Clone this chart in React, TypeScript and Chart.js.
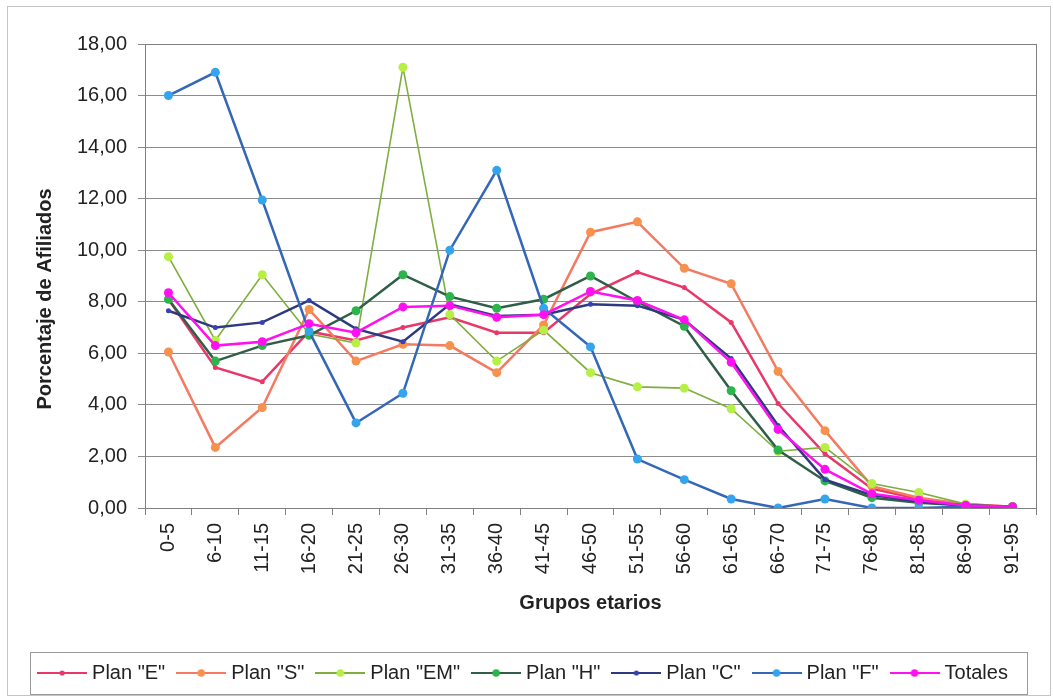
import { useEffect, useRef } from "react";
import { Chart, registerables } from "chart.js";

Chart.register(...registerables);

const categories = [
  "0-5", "6-10", "11-15", "16-20", "21-25", "26-30", "31-35", "36-40", "41-45", "46-50",
  "51-55", "56-60", "61-65", "66-70", "71-75", "76-80", "81-85", "86-90", "91-95",
];

const seriesNames = ['Plan "E"', 'Plan "S"', 'Plan "EM"', 'Plan "H"', 'Plan "C"', 'Plan "F"', "Totales"];

const planE = [8.1, 5.45, 4.9, 6.85, 6.5, 7.0, 7.4, 6.8, 6.8, 8.3, 9.15, 8.55, 7.2, 4.05, 2.1, 0.75, 0.35, 0.15, 0.05];
const planS = [6.05, 2.35, 3.9, 7.7, 5.7, 6.35, 6.3, 5.25, 7.1, 10.7, 11.1, 9.3, 8.7, 5.3, 3.0, 0.85, 0.4, 0.15, 0.05];
const planEM = [9.75, 6.5, 9.05, 6.75, 6.4, 17.1, 7.5, 5.7, 6.9, 5.25, 4.7, 4.65, 3.85, 2.2, 2.35, 0.95, 0.6, 0.15, 0.05];
const planH = [8.1, 5.7, 6.3, 6.7, 7.65, 9.05, 8.2, 7.75, 8.1, 9.0, 8.0, 7.05, 4.55, 2.25, 1.05, 0.4, 0.2, 0.1, 0.05];
const planC = [7.65, 7.0, 7.2, 8.05, 6.95, 6.45, 7.9, 7.45, 7.5, 7.9, 7.85, 7.3, 5.8, 3.2, 1.1, 0.5, 0.25, 0.1, 0.05];
const planF = [16.0, 16.9, 11.95, 6.85, 3.3, 4.45, 10.0, 13.1, 7.75, 6.25, 1.9, 1.1, 0.35, 0.0, 0.35, 0.0, 0.0, 0.05, 0.0];
const totales = [8.35, 6.3, 6.45, 7.15, 6.8, 7.8, 7.85, 7.4, 7.5, 8.4, 8.05, 7.3, 5.65, 3.05, 1.5, 0.55, 0.3, 0.1, 0.05];

const seriesValues = [planE, planS, planEM, planH, planC, planF, totales];

const yTitle = "Porcentaje de Afiliados";
const xTitle = "Grupos etarios";

const FONT = "'Liberation Sans', Arial, Helvetica, sans-serif";

const styles = [
  { line: "#E8386A", point: "#E8386A", r: 2.5, w: 2.5 },
  { line: "#F47A62", point: "#F7924E", r: 4.5, w: 2.5 },
  { line: "#7EAE3E", point: "#B6F044", r: 4.5, w: 1.6 },
  { line: "#2F5F46", point: "#2DB44C", r: 4.5, w: 2.5 },
  { line: "#2E3A80", point: "#3442B4", r: 2.5, w: 2.5 },
  { line: "#3467B8", point: "#34A4EC", r: 4.5, w: 2.5 },
  { line: "#FF10F0", point: "#FF10F0", r: 4.5, w: 2.5 },
];

function legendImage(s: { line: string; point: string; r: number; w: number }) {
  const c = document.createElement("canvas");
  c.width = 50;
  c.height = 12;
  const g = c.getContext("2d")!;
  g.strokeStyle = s.line;
  g.lineWidth = 2;
  g.beginPath();
  g.moveTo(0, 6);
  g.lineTo(50, 6);
  g.stroke();
  g.fillStyle = s.point;
  g.beginPath();
  g.arc(25, 6, s.r > 3 ? 3.8 : 2.6, 0, Math.PI * 2);
  g.fill();
  return c;
}

export default function App() {
  const ref = useRef<HTMLCanvasElement>(null);

  useEffect(() => {
    document.body.style.margin = "0";
    const canvas = ref.current!;
    const images = styles.map(legendImage);

    const framePlugin = {
      id: "framePlugin",
      beforeDraw(chart: any) {
        const ctx = chart.ctx;
        ctx.save();
        ctx.fillStyle = "#ffffff";
        ctx.fillRect(0, 0, chart.width, chart.height);
        ctx.strokeStyle = "#c4c4c4";
        ctx.lineWidth = 1;
        ctx.strokeRect(7.5, 6.5, chart.width - 10, chart.height - 9);
        ctx.restore();
      },
      beforeDatasetsDraw(chart: any) {
        const { ctx, chartArea } = chart;
        ctx.save();
        ctx.strokeStyle = "#808080";
        ctx.lineWidth = 1;
        ctx.strokeRect(
          Math.round(chartArea.left) + 0.5,
          Math.round(chartArea.top) + 0.5,
          Math.round(chartArea.right - chartArea.left),
          Math.round(chartArea.bottom - chartArea.top)
        );
        ctx.restore();
      },
      afterDraw(chart: any) {
        const ctx = chart.ctx;
        ctx.save();
        ctx.strokeStyle = "#9a9a9a";
        ctx.lineWidth = 1;
        ctx.strokeRect(30.5, 652.5, 997, 42);
        ctx.fillStyle = "#222222";
        ctx.font = `bold 20px ${FONT}`;
        ctx.textAlign = "center";
        ctx.textBaseline = "middle";
        ctx.translate(45, 299);
        ctx.rotate(-Math.PI / 2);
        ctx.fillText(yTitle, 0, 0);
        ctx.restore();
      },
    };

    const chart = new Chart(canvas, {
      type: "line",
      data: {
        labels: categories,
        datasets: seriesNames.map((name, i) => ({
          label: name,
          data: seriesValues[i],
          borderColor: styles[i].line,
          backgroundColor: styles[i].point,
          pointBackgroundColor: styles[i].point,
          pointBorderColor: styles[i].point,
          pointBorderWidth: 0,
          pointRadius: styles[i].r,
          borderWidth: styles[i].w,
          tension: 0,
          fill: false,
          order: 7 - i,
        })),
      },
      options: {
        responsive: false,
        animation: false,
        devicePixelRatio: 1,
        layout: { padding: { left: 14, right: 17, top: 44, bottom: 5 } },
        plugins: {
          tooltip: { enabled: false },
          legend: {
            position: "bottom",
            labels: {
              font: { size: 20, family: FONT },
              color: "#222222",
              usePointStyle: true,
              pointStyleWidth: 40,
              padding: 16,
              sort: (a: any, b: any) => a.datasetIndex - b.datasetIndex,
              generateLabels: (ch: any) => {
                const items = (Chart.defaults.plugins.legend.labels as any).generateLabels(ch);
                return items.map((it: any) => ({ ...it, pointStyle: images[it.datasetIndex] }));
              },
            },
          },
        },
        scales: {
          x: {
            offset: true,
            afterFit: (s: any) => {
              s.height = 139;
            },
            grid: {
              offset: true,
              drawOnChartArea: false,
              drawTicks: true,
              tickLength: 7,
              color: "#808080",
            },
            border: { color: "#808080" },
            ticks: {
              autoSkip: false,
              maxRotation: 90,
              minRotation: 90,
              padding: 8,
              color: "#222222",
              font: { size: 20, family: FONT },
            },
            title: {
              display: true,
              text: xTitle,
              color: "#222222",
              font: { size: 20, weight: "bold", family: FONT },
              padding: { top: 4, bottom: 32 },
            },
          },
          y: {
            min: 0,
            max: 18,
            afterFit: (s: any) => {
              s.width = 131;
            },
            grid: { color: "#8c8c8c", tickLength: 7, drawTicks: true },
            border: { color: "#808080" },
            ticks: {
              stepSize: 2,
              padding: 11,
              color: "#222222",
              font: { size: 20, family: FONT },
              callback: (v: any) => Number(v).toFixed(2).replace(".", ","),
            },
          },
        },
      },
      plugins: [framePlugin],
    });

    return () => chart.destroy();
  }, []);

  return <canvas ref={ref} width={1053} height={698} style={{ display: "block" }} />;
}
